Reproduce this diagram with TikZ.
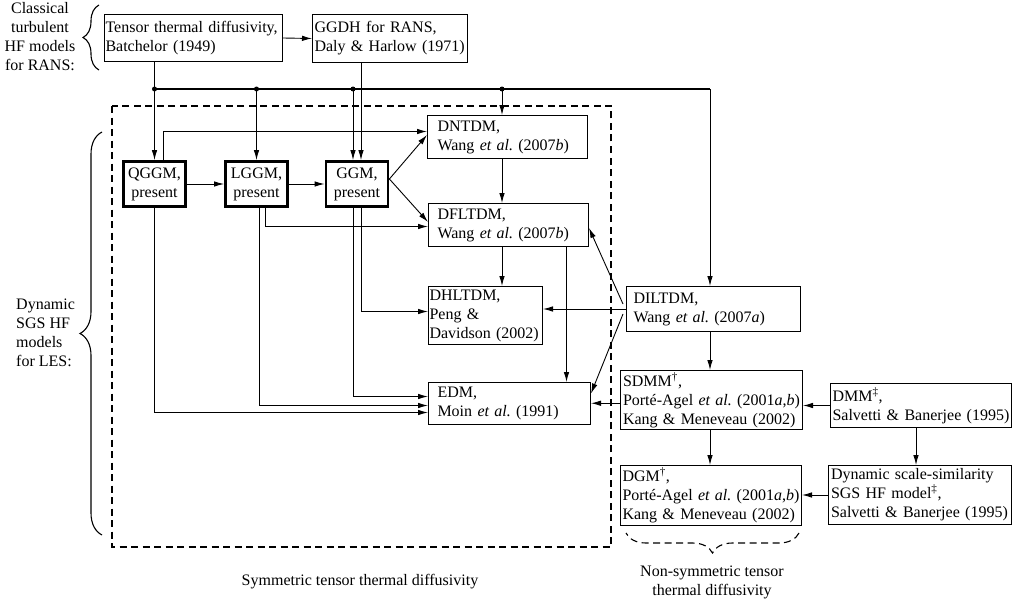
\documentclass[tikz,border=0pt]{standalone}
\usepackage{fontspec}
\setmainfont{Liberation Serif}
\usetikzlibrary{positioning, calc, arrows.meta, decorations.pathreplacing}

\begin{document}
\begin{tikzpicture}[
    x=1pt, y=-1pt,
    font=\fontsize{16}{19}\selectfont,
    box/.style={draw, line width=1pt, anchor=north west, align=left, inner ysep=2pt},
    model/.style={draw, line width=2.8pt, minimum width=62pt, minimum height=45pt, align=center, inner sep=1pt},
    arrow/.style={-{Latex[length=10pt, width=5.5pt]}, line width=0.9pt},
    bus/.style={line width=1.3pt},
    group/.style={line width=1.4pt, dash pattern=on 7pt off 4.5pt},
    brace/.style={decorate, line width=1.1pt}
]
    \useasboundingbox (0,0) rectangle (1012,602);

    % RANS models
    \node[align=center] (rans) at (40,37) {Classical\\turbulent\\HF models\\for RANS:};
    \node[box, text width=176pt, inner xsep=1pt, minimum height=47pt] (tensor) at (104,14) {Tensor thermal diffusivity,\\Batchelor (1949)};
    \node[box, text width=151pt, inner xsep=2pt, minimum height=48pt] (ggdh) at (312,14) {GGDH for RANS,\\Daly \& Harlow (1971)};
    \draw[brace, decoration={brace, amplitude=16pt}] (99,70) -- (99,5);
    \draw[arrow] (tensor.east) -- (ggdh.west);

    % LES models
    \node[align=left, anchor=west, inner sep=0pt] (les) at (16,333) {Dynamic\\SGS HF\\models\\for LES:};
    \draw[brace, decoration={brace, amplitude=22pt}] (102,535) -- (102,132);
    \draw[group] (112,106) rectangle (611,547);
    \node (sym) at (360,582) {Symmetric tensor thermal diffusivity};

    \node[model] (qggm) at (154.5,184) {QGGM,\\present};
    \node[model] (lggm) at (256.5,184) {LGGM,\\present};
    \node[model] (ggm) at (357,184) {GGM,\\present};
    \node[box, text width=140pt, inner xsep=10pt, minimum height=43pt] (dntdm) at (427,115) {DNTDM,\\Wang \textit{et al.}\ (2007\textit{b})};
    \node[box, text width=142pt, inner xsep=9pt, minimum height=43pt] (dfltdm) at (428,203) {DFLTDM,\\Wang \textit{et al.}\ (2007\textit{b})};
    \node[box, text width=112pt, inner xsep=1pt, minimum height=58pt] (dhltdm) at (428,286) {DHLTDM,\\Peng \&\\Davidson (2002)};
    \node[box, text width=144pt, inner xsep=9pt, minimum height=42pt] (edm) at (428,382) {EDM,\\Moin \textit{et al.}\ (1991)};

    \node[box, text width=160pt, inner xsep=7pt, minimum height=45pt] (diltdm) at (626,286) {DILTDM,\\Wang \textit{et al.}\ (2007\textit{a})};
    \node[box, text width=177pt, inner xsep=2.5pt, minimum height=58pt] (sdmm) at (620,370) {SDMM\textsuperscript{†},\\Porté-Agel \textit{et al.}\ (2001\textit{a},\textit{b})\\Kang \& Meneveau (2002)};
    \node[box, text width=177pt, inner xsep=2pt, minimum height=60pt] (dgm) at (620,465) {DGM\textsuperscript{†},\\Porté-Agel \textit{et al.}\ (2001\textit{a},\textit{b})\\Kang \& Meneveau (2002)};
    \node[box, text width=177pt, inner xsep=2pt, minimum height=44pt] (dmm) at (830,383) {DMM\textsuperscript{‡},\\Salvetti \& Banerjee (1995)};
    \node[box, text width=178pt, inner xsep=2.5pt, minimum height=59pt] (dss) at (828,465) {Dynamic scale-similarity\\SGS HF model\textsuperscript{‡},\\Salvetti \& Banerjee (1995)};
    \draw[brace, dash pattern=on 7pt off 4.5pt, decoration={brace, amplitude=20pt}] (799,533) -- (626,533);
    \node[align=center] (nonsym) at (712,582) {Non-symmetric tensor\\thermal diffusivity};

    % bus from the RANS models
    \coordinate (j1) at (qggm.north |- 0,89);
    \coordinate (j2) at (lggm.north |- 0,89);
    \coordinate (j3) at (353,89);
    \coordinate (j4) at (502,89);
    \coordinate (bend) at (710,89);
    \draw[bus] (j1) -- (bend);
    \fill (j1) circle (2.5pt);
    \fill (j2) circle (2.5pt);
    \fill (j3) circle (2.5pt);
    \fill (j4) circle (2.5pt);
    \draw[arrow] (tensor.south -| j1) -- (qggm.north);
    \draw[arrow] (j2) -- (lggm.north);
    \draw[arrow] (j3) -- (j3 |- ggm.north);
    \draw[arrow] ([xshift=4pt]ggm.north |- ggdh.south) -- ([xshift=4pt]ggm.north);
    \draw[arrow] (j4) -- (j4 |- dntdm.north);
    \draw[arrow] (bend) -- (bend |- diltdm.north);

    % symmetric models
    \draw[arrow] (qggm.east) -- (lggm.west);
    \draw[arrow] (lggm.east) -- (ggm.west);
    \draw[arrow] ([xshift=8.5pt]qggm.north) |- ([yshift=5.5pt]dntdm.west);
    \draw[arrow] ([yshift=5pt]ggm.east) -- ([yshift=2pt]dntdm.west);
    \draw[arrow] ([yshift=5pt]ggm.east) -- ([yshift=3pt]dfltdm.west);
    \draw[arrow] ([xshift=8.5pt]lggm.south) |- ([yshift=-1.5pt]dfltdm.west);
    \draw[arrow] ([xshift=2.5pt]lggm.south) |- ([yshift=-2pt]edm.west);
    \draw[arrow] (qggm.south) |- ([yshift=-9pt]edm.west);
    \draw[arrow] ([xshift=-4pt]ggm.south) |- ([yshift=7pt]edm.west);
    \draw[arrow] ([xshift=4pt]ggm.south) |- ([yshift=4pt]dhltdm.west);
    \draw[arrow] (dntdm.south -| j4) -- (dfltdm.north -| j4);
    \draw[arrow] (dfltdm.south -| j4) -- (dhltdm.north -| j4);
    \draw[arrow] ([xshift=58pt]dfltdm.south) -- ([xshift=58pt]dfltdm.south |- edm.north);

    % non-symmetric models
    \draw[arrow] (diltdm.west) -- (diltdm.west -| dhltdm.east);
    \draw[arrow] ([xshift=-3pt, yshift=5pt]diltdm.west) -- ([yshift=-3pt]dfltdm.east);
    \draw[arrow] ([xshift=-3pt, yshift=-5pt]diltdm.west) -- ([yshift=10pt]edm.east);
    \draw[arrow] (bend |- diltdm.south) -- (bend |- sdmm.north);
    \draw[arrow] (bend |- sdmm.south) -- (bend |- dgm.north);
    \draw[arrow] ([yshift=-3pt]sdmm.west) -- ([yshift=-3pt]sdmm.west -| edm.east);
    \draw[arrow] (dmm.west) -- (dmm.west -| sdmm.east);
    \draw[arrow] ([xshift=-5pt]dmm.south) -- ([xshift=-5pt]dmm.south |- dss.north);
    \draw[arrow] (dss.west) -- (dss.west -| dgm.east);
\end{tikzpicture}
\end{document}
